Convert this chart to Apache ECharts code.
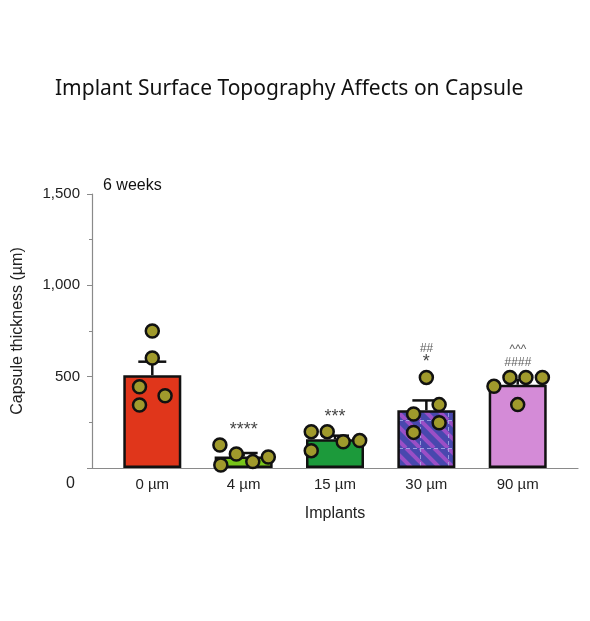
<!DOCTYPE html>
<html>
<head>
<meta charset="utf-8">
<script src="https://cdn.jsdelivr.net/npm/echarts@6/dist/echarts.min.js"></script>
<style>
    html, body { margin: 0; padding: 0; background: #fff; }
    #chart { width: 590px; height: 621px; }
</style>
</head>
<body>
<div id="chart"></div>
<script>
// categories and values
const categories = ['0 µm', '4 µm', '15 µm', '30 µm', '90 µm'];
const means = [508, 63, 157, 316, 456];
const upperErr = [582, 82, 177, 370, 482];
const barColors = ['#e0361b', '#78c51a', '#1c9a3b', 'pattern', '#d48bd7'];
// individual animals, value and horizontal jitter (in category units)
const points = [
    [750, 602, 445, 396, 345],
    [126, 77, 35, 60, 16],
    [199, 199, 144, 150, 95],
    [496, 347, 296, 248, 195],
    [447, 496, 496, 496, 347]
];
const jitter = [
    [0, 0, -0.14, 0.14, -0.14],
    [-0.26, -0.08, 0.1, 0.27, -0.25],
    [-0.26, -0.085, 0.09, 0.27, -0.26],
    [0, 0.14, -0.14, 0.14, -0.14],
    [-0.26, -0.085, 0.09, 0.27, 0]
];
const annotations = ['', '****', '***', '##\n*', '^^^\n####'];

// striped / gridded fill for the 30 µm bar
function makePattern() {
    const c = document.createElement('canvas');
    const s = 28;

    c.width = s;
    c.height = s;
    const ctx = c.getContext('2d');

    ctx.fillStyle = '#4848ae';
    ctx.fillRect(0, 0, s, s);
    ctx.strokeStyle = '#9a4fc6';
    ctx.lineWidth = 4;
    for (let k = -2 * s; k <= 2 * s; k += 14) {
        ctx.beginPath();
        ctx.moveTo(k, 0);
        ctx.lineTo(k + s, s);
        ctx.stroke();
    }
    ctx.strokeStyle = 'rgba(170,175,235,0.8)';
    ctx.lineWidth = 1;
    ctx.setLineDash([4, 3]);
    ctx.beginPath();
    ctx.moveTo(0, 0.5);
    ctx.lineTo(s, 0.5);
    ctx.moveTo(0.5, 0);
    ctx.lineTo(0.5, s);
    ctx.stroke();
    return c;
}

const pattern = {image: makePattern(), repeat: 'repeat'};

const barData = means.map((v, i) => ({
    value: [i, v],
    itemStyle: {color: barColors[i] === 'pattern' ? pattern : barColors[i]}
}));

const pointData = [];
points.forEach((arr, i) => {
    arr.forEach((v, j) => {
        pointData.push([i + jitter[i][j], v]);
    });
});

const annoData = annotations.map((t, i) => [i, Math.max(upperErr[i], ...points[i])]);

const chart = echarts.init(document.getElementById('chart'));
const font = '"Liberation Sans", Arial, sans-serif';

chart.setOption({
    animation: false,
    title: {
        text: 'Implant Surface Topography Affects on Capsule',
        left: 50,
        top: 74,
        textStyle: {fontFamily: '"Noto Sans", sans-serif', fontSize: 21, fontWeight: 'normal', color: '#111'}
    },
    grid: {left: 92, right: 12, top: 194, bottom: 153},
    xAxis: {
        type: 'value',
        min: -0.66,
        max: 4.66,
        name: 'Implants',
        nameLocation: 'middle',
        nameGap: 38,
        nameTextStyle: {fontFamily: font, fontSize: 16, color: '#222'},
        axisLine: {show: true, onZero: false, lineStyle: {color: '#8a8a8a', width: 1.2}},
        axisTick: {show: false},
        splitLine: {show: false},
        axisLabel: {
            customValues: [0, 1, 2, 3, 4],
            formatter: v => categories[Math.round(v)],
            margin: 9,
            fontFamily: font,
            fontSize: 15,
            color: '#222'
        }
    },
    yAxis: {
        type: 'value',
        min: 0,
        max: 1500,
        interval: 500,
        name: 'Capsule thickness (µm)',
        nameLocation: 'middle',
        nameGap: 66,
        nameTextStyle: {fontFamily: font, fontSize: 16, color: '#222'},
        axisLine: {show: true, onZero: false, lineStyle: {color: '#8a8a8a', width: 1.2}},
        axisTick: {show: true, length: 5, lineStyle: {color: '#8a8a8a'}},
        minorTick: {show: true, splitNumber: 2, length: 3, lineStyle: {color: '#8a8a8a'}},
        splitLine: {show: false},
        axisLabel: {
            margin: 12,
            fontFamily: font,
            fontSize: 15,
            color: '#222',
            formatter: v => (v === 0 ? '' : v.toLocaleString('en-US'))
        }
    },
    graphic: [
        {type: 'text', left: 66, top: 476, style: {text: '0', font: '16px ' + font, fill: '#222'}},
        {type: 'text', left: 103, top: 178, style: {text: '6 weeks', font: '16px ' + font, fill: '#111'}}
    ],
    series: [
        {
            type: 'bar',
            data: barData,
            barWidth: 58,
            itemStyle: {borderColor: '#111', borderWidth: 2.5},
            z: 2
        },
        {
            type: 'custom',
            data: upperErr.map((u, i) => [i, means[i], u]),
            renderItem: (params, api) => {
                const base = api.coord([api.value(0), api.value(1)]);
                const top = api.coord([api.value(0), api.value(2)]);
                const half = 14;

                return {
                    type: 'group',
                    children: [
                        {type: 'line', shape: {x1: base[0], y1: base[1], x2: top[0], y2: top[1]},
                            style: {stroke: '#111', lineWidth: 2.5}},
                        {type: 'line', shape: {x1: top[0] - half, y1: top[1], x2: top[0] + half, y2: top[1]},
                            style: {stroke: '#111', lineWidth: 2.5}}
                    ]
                };
            },
            z: 3
        },
        {
            type: 'scatter',
            data: pointData,
            symbolSize: 13,
            itemStyle: {color: '#a09a2c', borderColor: '#111', borderWidth: 2.5, opacity: 1},
            z: 4
        },
        {
            type: 'scatter',
            data: annoData,
            symbolSize: 0,
            silent: true,
            label: {
                show: true,
                position: 'top',
                distance: 8,
                formatter: p => annotations[p.dataIndex].split('\n')
                    .map(s => (s.indexOf('*') !== -1 ? `{s|${s}}` : `{h|${s}}`)).join('\n'),
                rich: {
                    s: {fontFamily: font, fontSize: 18, color: '#111', lineHeight: 14},
                    h: {fontFamily: font, fontSize: 12, fontStyle: 'italic', color: '#333', lineHeight: 13}
                }
            },
            z: 5
        }
    ]
});
</script>
</body>
</html>
